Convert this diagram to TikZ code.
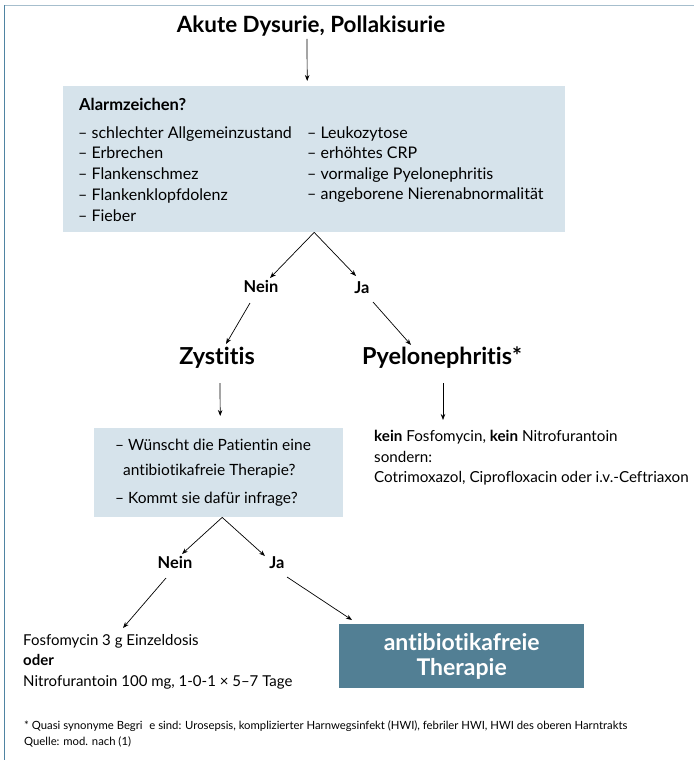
\documentclass[tikz,border=0pt]{standalone}
\usepackage{fontspec}
\setmainfont[Ligatures=NoCommon]{Lato}
\usetikzlibrary{arrows.meta,calc}
\definecolor{boxlight}{HTML}{D6E3EB}
\definecolor{boxdark}{HTML}{527F94}
\definecolor{frametop}{HTML}{A6BECD}
\definecolor{frameleft}{HTML}{4F84A2}
\begin{document}
\begin{tikzpicture}[x=1pt,y=-1pt,
  arr/.style={-{Stealth[length=6pt,width=4.5pt]}, line width=0.7pt},
  base/.style={inner sep=0pt, text height=0.72em, text depth=0.22em, yshift=-3pt},
  txt/.style={base, anchor=west, font=\fontsize{15.5}{18}\selectfont},
  restxt/.style={base, anchor=west, font=\fontsize{15}{18}\selectfont},
  ktxt/.style={base, anchor=west, font=\fontsize{15.2}{18}\selectfont},
  boxtxt/.style={base, anchor=west, font=\fontsize{16}{19}\selectfont},
  smbold/.style={base, font=\fontsize{16.4}{19}\selectfont\bfseries},
  head/.style={base, font=\fontsize{23.4}{27}\selectfont\bfseries},
  lightbox/.style={fill=boxlight, draw=none, inner sep=0pt, anchor=north west},
  darkbox/.style={fill=boxdark, draw=none, inner sep=0pt, anchor=north west},
  foot/.style={base, anchor=west, font=\fontsize{11.3}{13}\selectfont}]
\useasboundingbox (0,0) rectangle (694,760);
\fill[white] (0,0) rectangle (694,760);
% frame
\draw[frametop, line width=1.5pt] (4,5.5) -- (694,5.5);
\draw[frameleft, line width=1.5pt] (4.5,5) -- (4.5,760);

% title
\node[base, font=\fontsize{22.4}{26}\selectfont\bfseries] (title) at (311,27) {Akute Dysurie, Pollakisurie};

% box 1
\node[lightbox, minimum width=502pt, minimum height=146pt] (box1) at (63,86) {};
\node[smbold, anchor=west, font=\fontsize{16.5}{19}\selectfont\bfseries] (alarm) at (79,105) {Alarmzeichen?};
\node[boxtxt] (l1) at (78,133) {– schlechter Allgemeinzustand};
\node[boxtxt] (l2) at (78,153) {– Erbrechen};
\node[boxtxt] (l3) at (78,174) {– Flankenschmez};
\node[boxtxt] (l4) at (78,195) {– Flankenklopfdolenz};
\node[boxtxt] (l5) at (78,216) {– Fieber};
\node[boxtxt] (r1) at (307,133) {– Leukozytose};
\node[boxtxt] (r2) at (307,153) {– erhöhtes CRP};
\node[boxtxt] (r3) at (307,174) {– vormalige Pyelonephritis};
\node[boxtxt] (r4) at (307,194) {– angeborene Nierenabnormalität};

\draw[arr] ($(title.south)+(-4,4)$) -- ($(box1.north)+(-7,-5)$);

% first decision
\node[smbold] (nein1) at (261,287) {Nein};
\node[smbold] (ja1) at (362,288) {Ja};
\draw[arr] (box1.south) -- ($(nein1)+(9,-12)$);
\draw[arr] (box1.south) -- ($(ja1)+(-6,-15)$);

\node[head] (zyst) at (217,359) {Zystitis};
\node[head] (pyelo) at (442,359) {Pyelonephritis*};
\draw[arr] ($(nein1)+(-11,13)$) -- ($(zyst)+(9,-18)$);
\draw[arr] ($(ja1)+(11,11)$) -- ($(pyelo)+(-31,-17)$);

% box 2
\node[lightbox, minimum width=249pt, minimum height=89pt] (box2) at (94,428) {};
\node[txt] (q1) at (115,445) {– Wünscht die Patientin eine};
\node[txt] (q2) at (123,470) {antibiotikafreie Therapie?};
\node[txt] (q3) at (115,498) {– Kommt sie dafür infrage?};
\draw[arr] ($(zyst)+(3,21)$) -- ($(box2.north)+(1.5,-12)$);

% pyelo text
\node[ktxt] (k1) at (374,436) {\textbf{kein} Fosfomycin, \textbf{kein} Nitrofurantoin};
\node[ktxt] (k2) at (374,457) {sondern:};
\node[ktxt] (k3) at (374,477) {Cotrimoxazol, Ciprofloxacin oder i.v.-Ceftriaxon};
\draw[arr] ($(pyelo)+(1,21)$) -- ($(k1.west)+(69,-19)$);

% second decision
\node[smbold] (nein2) at (175,563) {Nein};
\node[smbold] (ja2) at (277,563) {Ja};
\draw[arr] ($(box2.south)+(3.5,0)$) -- ($(nein2)+(7,-12)$);
\draw[arr] ($(box2.south)+(3.5,0)$) -- ($(ja2)+(-12,-10)$);

% results
\node[restxt] (f1) at (23,640) {Fosfomycin 3 g Einzeldosis};
\node[restxt] (f2) at (23,660) {\textbf{oder}};
\node[restxt] (f3) at (23,681) {Nitrofurantoin 100 mg, 1-0-1 × 5–7 Tage};
\node[darkbox, minimum width=245pt, minimum height=64pt] (box3) at (339,624) {};
\node[inner sep=0pt, font=\fontsize{23}{26}\selectfont\bfseries, text=white, align=center] (anti) at ($(box3.center)+(0,0)$) {antibiotikafreie\\[-1pt]Therapie};
\draw[arr] ($(nein2)+(-9,12)$) -- ($(f1.west)+(100,-15)$);
\draw[arr] ($(ja2)+(10,11)$) -- ($(box3.north west)+(13,-4)$);

% footnote
\node[foot] (fn1) at (24,724) {* Quasi synonyme Begri\hspace{0.6em}e sind: Urosepsis, komplizierter Harnwegsinfekt (HWI), febriler HWI, HWI des oberen Harntrakts};
\node[foot] (fn2) at (24,740) {Quelle: mod. nach (1)};
\end{tikzpicture}
\end{document}
